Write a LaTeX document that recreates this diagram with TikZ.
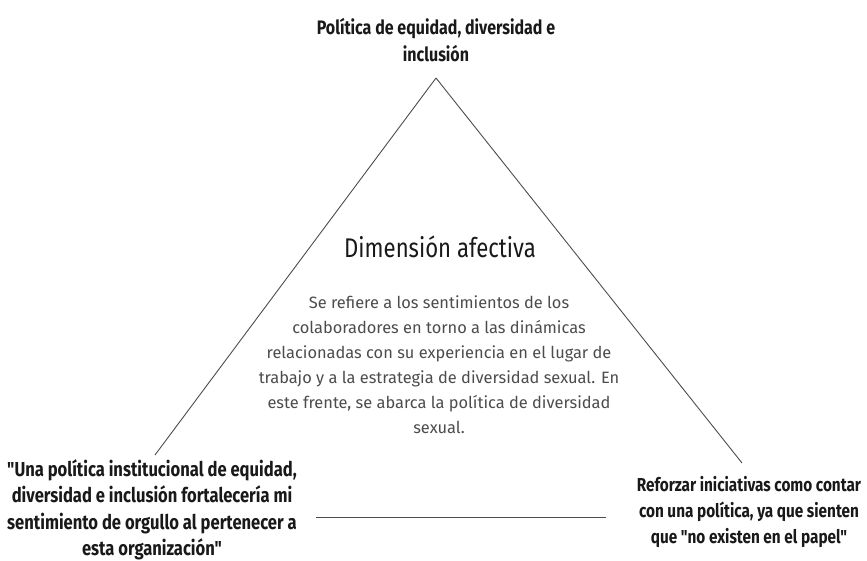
\documentclass[tikz,border=0pt]{standalone}
\usepackage{fontspec}
\setmainfont[FakeStretch=0.82,Ligatures=TeXOff]{Fira Sans}
\newfontfamily\bodyfont[Ligatures=TeXOff]{Fira Sans}
\begin{document}
\begin{tikzpicture}[x=1pt,y=-1pt,
  edge/.style={draw=black!70, line width=0.9pt},
  hdr/.style={align=center, text=black!90, font=\fontsize{19.5}{26.5}\selectfont\bfseries},
  body/.style={align=center, text=black!70, font=\bodyfont\fontsize{16.4}{25}\selectfont},
  ttl/.style={align=center, text=black!90, font=\fontsize{27}{30}\selectfont}]
\useasboundingbox (0,0) rectangle (867,561);
\coordinate (apex) at (436,78);
\coordinate (lend) at (155,455);
\coordinate (rend) at (742,463);
\coordinate (bl) at (316,517);
\coordinate (br) at (606,517);
\draw[edge] (apex) -- (lend);
\draw[edge] (apex) -- (rend);
\draw[edge] (bl) -- (br);
\node[hdr] (top) at (436,40) {Política de equidad, diversidad e\\inclusión};
\node[hdr, font=\fontsize{20.2}{26.5}\selectfont\bfseries] (left) at (152,510) {"Una política institucional de equidad,\\diversidad e inclusión fortalecería mi\\sentimiento de orgullo al pertenecer a\\esta organización"};
\node[hdr, font=\fontsize{18.7}{26}\selectfont\bfseries] (right) at (749,512) {Reforzar iniciativas como contar\\con una política, ya que sienten\\que "no existen en el papel"};
\node[ttl] (title) at (440,247) {Dimensión afectiva};
\node[body] (desc) at (439,365) {Se refiere a los sentimientos de los\\colaboradores en torno a las dinámicas\\relacionadas con su experiencia en el lugar de\\trabajo y a la estrategia de diversidad sexual. En\\este frente, se abarca la política de diversidad\\sexual.};
\end{tikzpicture}
\end{document}
